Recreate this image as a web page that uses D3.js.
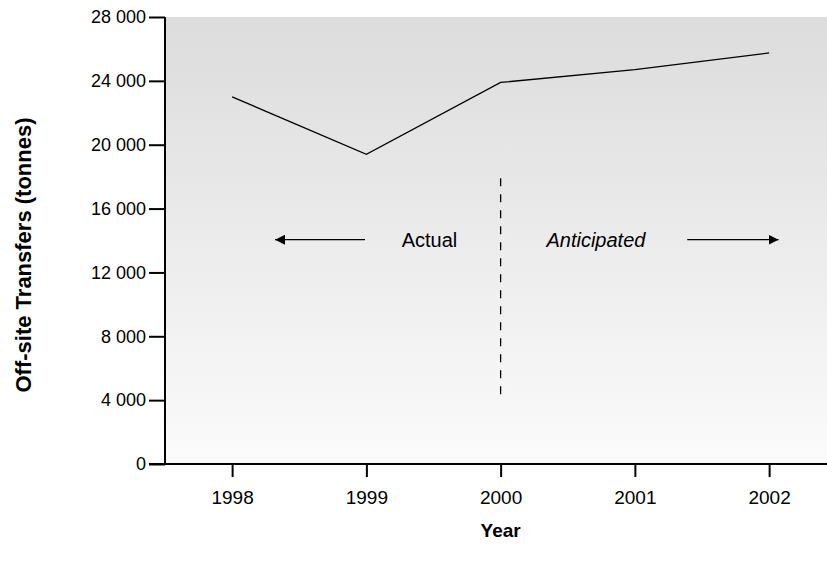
<!DOCTYPE html>
<html>
<head>
<meta charset="utf-8">
<script src="https://cdn.jsdelivr.net/npm/d3@7"></script>
<style>
  body { margin: 0; background: #fff; }
  svg { display: block; font-family: Arial, "Liberation Sans", Helvetica, sans-serif; }
</style>
</head>
<body>
<div id="chart"></div>
<script>
var years = [1998, 1999, 2000, 2001, 2002];
var transfers = [23000, 19400, 23900, 24700, 25750];
var yTicks = [0, 4000, 8000, 12000, 16000, 20000, 24000, 28000];

// annotation: actual / anticipated divider
var dividerYear = 2000;
var dividerRange = [4200, 17900];
var arrowLevel = 14050;
var leftArrow = [1998.99, 1998.32];
var rightArrow = [2001.39, 2002.07];
var labelActual = "Actual";
var labelAnticipated = "Anticipated";

function setupChart() {
    var width = 827, height = 571;
    var margin = {top: 17, left: 165, bottom: 107};

    var svg = d3.select("#chart").append("svg")
        .attr("width", width)
        .attr("height", height);

    var xScale = d3.scaleLinear().domain([1997.5, 2002.5]).range([margin.left, margin.left + 5 * 134.25]);
    var yScale = d3.scaleLinear().domain([0, 28000]).range([height - margin.bottom, margin.top]);

    var defs = svg.append("defs");
    var grad = defs.append("linearGradient")
        .attr("id", "bg")
        .attr("x1", 0).attr("y1", 0)
        .attr("x2", 0).attr("y2", 1);
    grad.append("stop").attr("offset", "0%").attr("stop-color", "#dcdcdc");
    grad.append("stop").attr("offset", "100%").attr("stop-color", "#fbfbfb");

    defs.append("marker")
        .attr("id", "head")
        .attr("viewBox", "0 0 10 10")
        .attr("refX", 10).attr("refY", 5)
        .attr("markerWidth", 10).attr("markerHeight", 10)
        .attr("markerUnits", "userSpaceOnUse")
        .attr("orient", "auto")
        .append("path")
        .attr("d", "M0,0L10,5L0,10Z")
        .attr("fill", "#000");

    svg.append("rect")
        .attr("x", xScale(1997.5))
        .attr("y", yScale(28000))
        .attr("width", width - xScale(1997.5))
        .attr("height", yScale(0) - yScale(28000))
        .attr("fill", "url(#bg)");

    // y axis
    var yAxis = svg.append("g")
        .attr("transform", "translate(" + xScale(1997.5) + ",0)")
        .call(d3.axisLeft(yScale)
            .tickValues(yTicks)
            .tickSize(16)
            .tickPadding(3)
            .tickFormat(d => d3.format(",")(d).replace(",", " ")));
    yAxis.select(".domain").attr("stroke-width", 2).attr("d", "M0," + yScale(28000) + "V" + yScale(0));
    yAxis.selectAll(".tick line").attr("stroke-width", 2);
    yAxis.selectAll("text").style("font-size", "18px").attr("fill", "#000");

    // x axis
    var xAxis = svg.append("g")
        .attr("transform", "translate(0," + yScale(0) + ")")
        .call(d3.axisBottom(xScale)
            .tickValues(years)
            .tickSize(13)
            .tickPadding(14)
            .tickFormat(d3.format("d")));
    xAxis.select(".domain").attr("stroke-width", 2).attr("d", "M" + (xScale(1997.5) - 16) + ",0H" + width);
    xAxis.selectAll(".tick line").attr("stroke-width", 2);
    xAxis.selectAll("text").style("font-size", "19px").attr("fill", "#000");

    // series
    var line = d3.line()
        .x((d, i) => xScale(years[i]))
        .y(d => yScale(d));
    svg.append("path")
        .datum(transfers)
        .attr("d", line)
        .attr("fill", "none")
        .attr("stroke", "#000")
        .attr("stroke-width", 1.3);

    // divider and labels
    svg.append("line")
        .attr("x1", xScale(dividerYear)).attr("x2", xScale(dividerYear))
        .attr("y1", yScale(dividerRange[1])).attr("y2", yScale(dividerRange[0]))
        .attr("stroke", "#000")
        .attr("stroke-width", 1.3)
        .attr("stroke-dasharray", "8,8");

    [leftArrow, rightArrow].forEach(function(a) {
        svg.append("line")
            .attr("x1", xScale(a[0])).attr("x2", xScale(a[1]))
            .attr("y1", yScale(arrowLevel)).attr("y2", yScale(arrowLevel))
            .attr("stroke", "#000")
            .attr("stroke-width", 1.3)
            .attr("marker-end", "url(#head)");
    });

    svg.append("text")
        .attr("x", xScale(1999.47))
        .attr("y", yScale(arrowLevel))
        .attr("dy", "0.35em")
        .style("text-anchor", "middle")
        .style("font-size", "20px")
        .text(labelActual);

    svg.append("text")
        .attr("x", xScale(2000.71))
        .attr("y", yScale(arrowLevel))
        .attr("dy", "0.35em")
        .style("text-anchor", "middle")
        .style("font-size", "20px")
        .style("font-style", "italic")
        .text(labelAnticipated);

    // axis titles
    svg.append("text")
        .attr("x", xScale(2000))
        .attr("y", 537)
        .style("text-anchor", "middle")
        .style("font-size", "19px")
        .style("font-weight", "bold")
        .text("Year");

    svg.append("text")
        .attr("transform", "rotate(-90)")
        .attr("x", -255)
        .attr("y", 31)
        .style("text-anchor", "middle")
        .style("font-size", "22px")
        .style("font-weight", "bold")
        .text("Off-site Transfers (tonnes)");
}

setupChart();
</script>
</body>
</html>
